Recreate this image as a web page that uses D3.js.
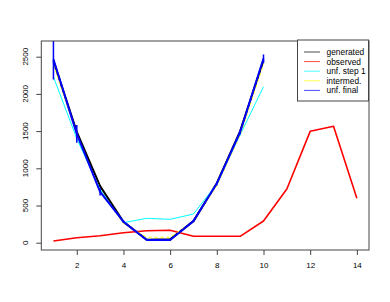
<!DOCTYPE html>
<html>
<head>
<meta charset="utf-8">
<script src="https://cdn.jsdelivr.net/npm/d3@7"></script>
<style>
  body { margin: 0; background: #fff; }
  text { font-family: "Liberation Sans", Arial, sans-serif; fill: #000; }
</style>
</head>
<body>
<div id="chart"></div>
<script>
var svgWidth = 390;
var svgHeight = 302;

// plot region (R style)
var box = { left: 41.3, right: 369, top: 41, bottom: 250 };

var bins = [1, 2, 3, 4, 5, 6, 7, 8, 9, 10];
var obsBins = [1, 2, 3, 4, 5, 6, 7, 8, 9, 10, 11, 12, 13, 14];

var generated = [2440, 1490, 760, 280, 40, 45, 290, 800, 1500, 2450];
var observed = [23, 67, 94, 134, 161, 167, 86, 86, 86, 292, 722, 1497, 1564, 597];
var unfStep1 = [2230, 1400, 715, 269, 328, 314, 386, 790, 1450, 2097];
var intermed = [2400, 1450, 700, 262, 73, 73, 290, 765, 1445, 2400];
var unfFinal = [2465, 1463, 683, 282, 36, 36, 292, 795, 1488, 2475];
var unfErr = [270, 120, 50, 15, 10, 10, 15, 25, 30, 55];

var xTicks = [2, 4, 6, 8, 10, 12, 14];
var yTicks = [0, 500, 1000, 1500, 2000, 2500];

var legendLabels = ["generated", "observed", "unf. step 1", "intermed.", "unf. final"];
var legendColors = ["#000000", "#ff0000", "#00ffff", "#ffff00", "#0000ff"];

var svg = d3.select("#chart")
  .append("svg")
  .attr("width", svgWidth)
  .attr("height", svgHeight);

var x = d3.scaleLinear().domain([0.48, 14.52]).range([box.left, box.right]);
var y = d3.scaleLinear().domain([-98, 2711]).range([box.bottom, box.top]);

svg.append("defs").append("clipPath")
  .attr("id", "plotclip")
  .append("rect")
  .attr("x", box.left)
  .attr("y", box.top)
  .attr("width", box.right - box.left)
  .attr("height", box.bottom - box.top);

var plot = svg.append("g").attr("clip-path", "url(#plotclip)");

function drawLine(xs, ys, color, width, dash) {
  var line = d3.line()
    .x(function(d, i) { return x(xs[i]); })
    .y(function(d) { return y(d); });
  plot.append("path")
    .datum(ys)
    .attr("d", line)
    .attr("fill", "none")
    .attr("stroke", color)
    .attr("stroke-width", width)
    .attr("stroke-dasharray", dash || null)
    .attr("stroke-linejoin", "round");
}

drawLine(bins, generated, "#000000", 2);
drawLine(obsBins, observed, "#ff0000", 1.6);
drawLine(bins, unfStep1, "#00ffff", 1);
drawLine(bins, intermed, "#ffff00", 1, "3,3");
drawLine(bins, unfFinal, "#0000ff", 2);

// error bars on final unfolding
plot.selectAll(".err")
  .data(unfFinal)
  .enter()
  .append("line")
  .attr("class", "err")
  .attr("x1", function(d, i) { return x(bins[i]); })
  .attr("x2", function(d, i) { return x(bins[i]); })
  .attr("y1", function(d, i) { return y(d - unfErr[i]); })
  .attr("y2", function(d, i) { return y(d + unfErr[i]); })
  .attr("stroke", "#0000ff")
  .attr("stroke-width", 1.5);

// box
svg.append("rect")
  .attr("x", box.left)
  .attr("y", box.top)
  .attr("width", box.right - box.left)
  .attr("height", box.bottom - box.top)
  .attr("fill", "none")
  .attr("stroke", "#444")
  .attr("stroke-width", 1);

// axes
var xAxis = d3.axisBottom(x).tickValues(xTicks).tickSize(5).tickPadding(7)
  .tickFormat(d3.format("d"));
var yAxis = d3.axisLeft(y).tickValues(yTicks).tickSize(5).tickFormat("");

var gx = svg.append("g")
  .attr("transform", "translate(0," + box.bottom + ")")
  .call(xAxis);
gx.select(".domain").remove();
gx.selectAll("line").attr("stroke", "#444");
gx.selectAll("text").attr("font-size", "8px").attr("fill", "#000");

var gy = svg.append("g")
  .attr("transform", "translate(" + box.left + ",0)")
  .call(yAxis);
gy.select(".domain").remove();
gy.selectAll("line").attr("stroke", "#444");

// rotated y tick labels, as R draws them
svg.append("g").selectAll("text")
  .data(yTicks)
  .enter()
  .append("text")
  .attr("transform", function(d) { return "translate(28," + y(d) + ") rotate(-90)"; })
  .attr("text-anchor", "middle")
  .attr("font-size", "8px")
  .text(function(d) { return d; });

// legend
var legend = svg.append("g");
legend.append("rect")
  .attr("x", 297.5)
  .attr("y", 40)
  .attr("width", 71)
  .attr("height", 61)
  .attr("fill", "#fff")
  .attr("stroke", "#444")
  .attr("stroke-width", 1);

var rows = legend.selectAll(".row")
  .data(legendLabels)
  .enter()
  .append("g")
  .attr("class", "row")
  .attr("transform", function(d, i) { return "translate(0," + (52 + i * 9.6) + ")"; });

rows.append("line")
  .attr("x1", 304)
  .attr("x2", 320)
  .attr("y1", 0)
  .attr("y2", 0)
  .attr("stroke", function(d, i) { return legendColors[i]; })
  .attr("stroke-width", 1)
  .attr("opacity", 0.7);

rows.append("text")
  .attr("x", 326.5)
  .attr("y", 0)
  .attr("dy", "0.35em")
  .attr("font-size", "8.4px")
  .text(function(d) { return d; });
</script>
</body>
</html>
